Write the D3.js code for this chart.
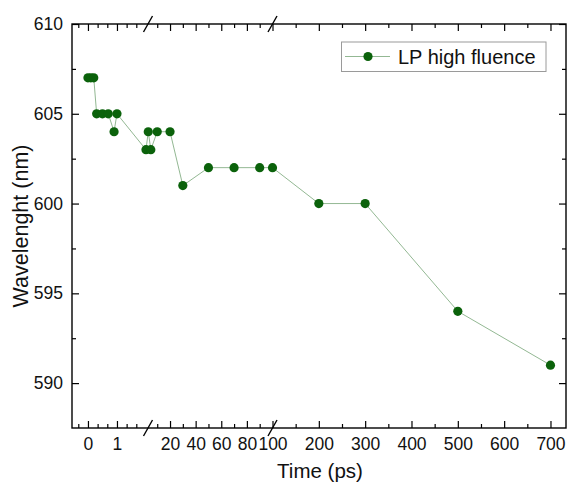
<!DOCTYPE html>
<html>
<head>
<meta charset="utf-8">
<script src="https://cdn.jsdelivr.net/npm/d3@7/dist/d3.min.js"></script>
<style>
  html, body { margin: 0; padding: 0; background: #fff; }
  svg { display: block; font-family: "Liberation Sans", Arial, sans-serif; }
</style>
</head>
<body>
<svg id="chart" width="568" height="486"></svg>
<script>
// Peak wavelength vs. delay time
const times = [0, 0.1, 0.2, 0.3, 0.5, 0.7, 0.9, 1, 2, 3, 5, 10, 20, 30, 50, 70, 90, 100, 200, 300, 500, 700];
const wavelengths = [607, 607, 607, 605, 605, 605, 604, 605, 603, 604, 603, 604, 604, 601, 602, 602, 602, 602, 600, 600, 594, 591];
const seriesName = "LP high fluence";

// Broken x axis: three linear pieces
const segDomains = [[-0.55, 2.07], [2.8, 100], [100, 733.5]];
const segMajor = [[0, 1], [20, 40, 60, 80, 100], [200, 300, 400, 500, 600, 700]];
const segMinor = [[-1/3, 1/3, 2/3, 4/3, 5/3], [10, 30, 50, 70, 90], [150, 250, 350, 450, 550, 650]];
const yTicks = [590, 595, 600, 605, 610];
const yMinor = [592.5, 597.5, 602.5, 607.5];

const plotL = 72, plotR = 566, plotT = 24, plotB = 428;
const breaks = [148, 272.5];
const segRanges = [[plotL, breaks[0]], [breaks[0], breaks[1]], [breaks[1], plotR]];

const xSegs = segDomains.map((d, i) => d3.scaleLinear().domain(d).range(segRanges[i]));
function x(t) {
  if (t <= segDomains[0][1]) return xSegs[0](t);
  if (t <= segDomains[1][1]) return xSegs[1](t);
  return xSegs[2](t);
}
const y = d3.scaleLinear().domain([587.5, 610]).range([plotB, plotT]);

const svg = d3.select("#chart");
const axisColor = "#000";

// Y axes (left labelled, right mirrored)
svg.append("g").attr("transform", `translate(${plotL},0)`)
  .call(d3.axisLeft(y).tickValues(yTicks).tickSize(-7).tickPadding(9).tickFormat(d3.format("d")));
svg.append("g").attr("transform", `translate(${plotL},0)`)
  .call(d3.axisLeft(y).tickValues(yMinor).tickSize(-4).tickFormat(""));
svg.append("g").attr("transform", `translate(${plotR},0)`)
  .call(d3.axisRight(y).tickValues(yTicks).tickSize(-7).tickFormat(""));
svg.append("g").attr("transform", `translate(${plotR},0)`)
  .call(d3.axisRight(y).tickValues(yMinor).tickSize(-4).tickFormat(""));

// X axes, one per segment, bottom labelled and top mirrored
xSegs.forEach((s, i) => {
  svg.append("g").attr("transform", `translate(0,${plotB})`)
    .call(d3.axisBottom(s).tickValues(segMajor[i]).tickSize(-7).tickPadding(10).tickFormat(d3.format("d")));
  svg.append("g").attr("transform", `translate(0,${plotB})`)
    .call(d3.axisBottom(s).tickValues(segMinor[i]).tickSize(-4).tickFormat(""));
  svg.append("g").attr("transform", `translate(0,${plotT})`)
    .call(d3.axisTop(s).tickValues(segMajor[i]).tickSize(-7).tickFormat(""));
  svg.append("g").attr("transform", `translate(0,${plotT})`)
    .call(d3.axisTop(s).tickValues(segMinor[i]).tickSize(-4).tickFormat(""));
});

svg.selectAll(".domain").remove();
svg.selectAll(".tick line").attr("stroke", axisColor).attr("stroke-width", 1.2);
svg.selectAll(".tick text").attr("font-size", 17.5).attr("fill", "#111")
  .attr("font-family", "'Liberation Sans', Arial, sans-serif");

// Frame
svg.append("rect").attr("x", plotL).attr("y", plotT)
  .attr("width", plotR - plotL).attr("height", plotB - plotT)
  .attr("fill", "none").attr("stroke", axisColor).attr("stroke-width", 1.4);

// Break marks on top and bottom axes
breaks.forEach(bx => {
  [plotT, plotB].forEach(by => {
    svg.append("line")
      .attr("x1", bx - 4.5).attr("y1", by + 8)
      .attr("x2", bx + 4.5).attr("y2", by - 8)
      .attr("stroke", axisColor).attr("stroke-width", 1.4);
  });
});

// Axis titles
svg.append("text").attr("x", 320).attr("y", 478).attr("text-anchor", "middle")
  .attr("font-size", 20.5).attr("fill", "#111").text("Time (ps)");
svg.append("text").attr("transform", `translate(28,${(plotT + plotB) / 2}) rotate(-90)`)
  .attr("text-anchor", "middle").attr("font-size", 21.5).attr("fill", "#111").text("Wavelenght (nm)");

// Series
const pts = times.map((t, i) => [t, wavelengths[i]]);
svg.append("path").datum(pts)
  .attr("d", d3.line().x(d => x(d[0])).y(d => y(d[1])))
  .attr("fill", "none").attr("stroke", "#93b893").attr("stroke-width", 1);
svg.append("g").selectAll("circle").data(pts).join("circle")
  .attr("cx", d => x(d[0])).attr("cy", d => y(d[1])).attr("r", 4.6)
  .attr("fill", "#0b620b");

// Legend
const lg = svg.append("g");
lg.append("rect").attr("x", 341.5).attr("y", 42).attr("width", 204.5).attr("height", 29.5)
  .attr("fill", "#fff").attr("stroke", "#9a9a9a").attr("stroke-width", 1);
lg.append("line").attr("x1", 345).attr("x2", 390).attr("y1", 56.5).attr("y2", 56.5)
  .attr("stroke", "#93b893").attr("stroke-width", 1);
lg.append("circle").attr("cx", 368).attr("cy", 56.5).attr("r", 4.6).attr("fill", "#0b620b");
lg.append("text").attr("x", 398).attr("y", 63.5).attr("font-size", 20).attr("fill", "#111").text(seriesName);
</script>
</body>
</html>
